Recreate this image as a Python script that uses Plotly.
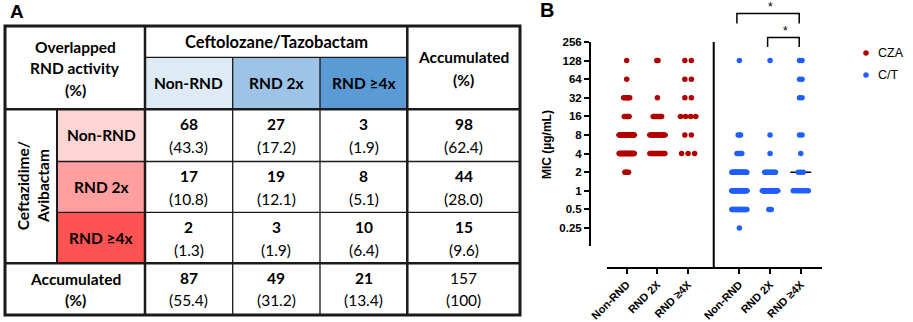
import numpy as np
import plotly.graph_objects as go

W, H = 913, 322

# ---------------- Panel A data ----------------
ct_levels = ["Non-RND", "RND 2x", "RND ≥4x"]      # Ceftolozane/Tazobactam columns
cza_levels = ["Non-RND", "RND 2x", "RND ≥4x"]     # Ceftazidime/Avibactam rows
counts = [[68, 27, 3], [17, 19, 8], [2, 3, 10]]
percents = [["43.3", "17.2", "1.9"], ["10.8", "12.1", "5.1"], ["1.3", "1.9", "6.4"]]
row_totals = [98, 44, 15]
row_pcts = ["62.4", "28.0", "9.6"]
col_totals = [87, 49, 21]
col_pcts = ["55.4", "31.2", "13.4"]
grand_total = "157"
grand_pct = "100"

# ---------------- Panel B data ----------------
mic_levels = [0.25, 0.5, 1, 2, 4, 8, 16, 32, 64, 128]
group_labels = ["Non-RND", "RND 2X", "RND ≥4X"]
cza_counts = [
    [0, 0, 0, 4, 41, 40, 5, 6, 1, 1],
    [0, 0, 0, 0, 16, 17, 8, 1, 0, 2],
    [0, 0, 0, 0, 3, 2, 4, 2, 2, 2],
]
ct_counts = [
    [1, 23, 28, 26, 5, 3, 0, 0, 0, 1],
    [0, 3, 33, 10, 1, 1, 0, 0, 0, 1],
    [0, 0, 9, 3, 1, 2, 0, 2, 2, 2],
]
y_tick_vals = [0.25, 0.5, 1, 2, 4, 8, 16, 32, 64, 128, 256]
y_tick_text = ["0.25", "0.5", "1", "2", "4", "8", "16", "32", "64", "128", "256"]
series_names = ["CZA", "C/T"]

# ---------------- styles ----------------
RED = "#B00000"
BLUE = "#1F5FFF"
TFONT = "Lato"
AFONT = "Liberation Sans, Arial"
FS = 15.5
INK = "#1a1a1a"


def px(x):
    return x / W


def py(y):
    return 1 - y / H


fig = go.Figure()
shapes = []
ann = []

# ---------------- Panel A: table ----------------
xs_ = [5, 57, 145, 232.7, 320, 407.3, 520]
ys_ = [26, 57.3, 109.3, 161.5, 212.3, 263.3, 315]
blue_fill = ["#DEEBF7", "#9DC3E6", "#5B9BD5"]
red_fill = ["#FDD5D5", "#FF9F9F", "#FF5252"]

for j in range(3):
    shapes.append(dict(type="rect", xref="paper", yref="paper", layer="below",
                       x0=px(xs_[2 + j]), x1=px(xs_[3 + j]), y0=py(ys_[1]), y1=py(ys_[2]),
                       fillcolor=blue_fill[j], line=dict(width=0)))
    shapes.append(dict(type="rect", xref="paper", yref="paper", layer="below",
                       x0=px(xs_[1]), x1=px(xs_[2]), y0=py(ys_[2 + j]), y1=py(ys_[3 + j]),
                       fillcolor=red_fill[j], line=dict(width=0)))


def hline(y, x0, x1, w):
    shapes.append(dict(type="line", xref="paper", yref="paper", x0=px(x0), x1=px(x1),
                       y0=py(y), y1=py(y), line=dict(color=INK, width=w)))


def vline(x, y0, y1, w):
    shapes.append(dict(type="line", xref="paper", yref="paper", x0=px(x), x1=px(x),
                       y0=py(y0), y1=py(y1), line=dict(color=INK, width=w)))


# thin
hline(ys_[1], xs_[2], xs_[5], 1.3)
hline(ys_[3], xs_[1], xs_[6], 1.3)
hline(ys_[4], xs_[1], xs_[6], 1.3)
vline(xs_[3], ys_[1], ys_[6], 1.3)
vline(xs_[4], ys_[1], ys_[6], 1.3)
vline(xs_[1], ys_[2], ys_[5], 2)
# thick
hline(ys_[2], xs_[0], xs_[6], 2.5)
hline(ys_[5], xs_[0], xs_[6], 2.5)
vline(xs_[2], ys_[0], ys_[6], 2.5)
vline(xs_[5], ys_[0], ys_[6], 2.5)
# outer
shapes.append(dict(type="rect", xref="paper", yref="paper", x0=px(xs_[0]), x1=px(xs_[6]),
                   y0=py(ys_[0]), y1=py(ys_[6]), line=dict(color=INK, width=3)))


def text(x, y, s, size=FS, bold=False, family=TFONT, color="black", angle=0, xanchor="center"):
    ann.append(dict(x=px(x), y=py(y), xref="paper", yref="paper", text=s, showarrow=False,
                    xanchor=xanchor, yanchor="middle", textangle=angle,
                    font=dict(family=family, size=size, color=color,
                              weight="bold" if bold else "normal")))


def cx(i):
    return (xs_[i] + xs_[i + 1]) / 2


def cy(i):
    return (ys_[i] + ys_[i + 1]) / 2


left_c = (xs_[0] + xs_[2]) / 2
# header
text(left_c, 46.5, "Overlapped", bold=True)
text(left_c, 68, "RND activity", bold=True)
text(left_c, 89.5, "(%)", bold=True)
text((xs_[2] + xs_[5]) / 2, cy(0), "Ceftolozane/Tazobactam", size=16.5, bold=True)
text(cx(5), 57, "Accumulated", bold=True)
text(cx(5), 80, "(%)", bold=True)
for j in range(3):
    text(cx(2 + j), cy(1), ct_levels[j], bold=True)
    text(cx(1), cy(2 + j), cza_levels[j], bold=True)
text(cx(0) + 2, (ys_[2] + ys_[5]) / 2, "Ceftazidime/<br>Avibactam", bold=True, angle=-90)

for i in range(3):
    for j in range(3):
        text(cx(2 + j), cy(2 + i) - 11, str(counts[i][j]), bold=True)
        text(cx(2 + j), cy(2 + i) + 12, "(" + percents[i][j] + ")")
    text(cx(5), cy(2 + i) - 11, str(row_totals[i]), bold=True)
    text(cx(5), cy(2 + i) + 12, "(" + row_pcts[i] + ")")

text(left_c, cy(5) - 10.5, "Accumulated", bold=True)
text(left_c, cy(5) + 11, "(%)", bold=True)
for j in range(3):
    text(cx(2 + j), cy(5) - 11, str(col_totals[j]), bold=True)
    text(cx(2 + j), cy(5) + 11, "(" + col_pcts[j] + ")")
text(cx(5), cy(5) - 11, grand_total)
text(cx(5), cy(5) + 11, "(" + grand_pct + ")")

text(17, 12, "A", size=19, bold=True, family=AFONT)
text(547, 10, "B", size=20, bold=True, family=AFONT)

# ---------------- Panel B: dot plot ----------------
PXU = 30.7
group_x = [0, 1, 2, 3.67, 4.67, 5.67]
spacing = [1.2, 1.2, 6.5, 1.2, 1.2, 2.5]
CAP = 15.0


def expand(cnts, xc, sp):
    xs, ys = [], []
    for lvl, n in zip(mic_levels, cnts):
        if n == 0:
            continue
        step = sp if n == 1 else min(sp, CAP / (n - 1))
        for k in range(n):
            xs.append(xc + (k - (n - 1) / 2) * step / PXU)
            ys.append(lvl)
    return xs, ys


all_groups = [(cza_counts, RED, series_names[0], 0), (ct_counts, BLUE, series_names[1], 3)]
# median lines first (below the dots)
for cset, col, name, off in all_groups:
    for g in range(3):
        _, ys = expand(cset[g], group_x[off + g], spacing[off + g])
        med = float(np.median(ys))
        xc = group_x[off + g]
        fig.add_trace(go.Scatter(x=[xc - 0.34, xc + 0.34], y=[med, med], mode="lines",
                                 line=dict(color="black", width=1.5), showlegend=False,
                                 hoverinfo="skip"))
for cset, col, name, off in all_groups:
    X, Y = [], []
    for g in range(3):
        xs, ys = expand(cset[g], group_x[off + g], spacing[off + g])
        X += xs
        Y += ys
    fig.add_trace(go.Scatter(x=X, y=Y, mode="markers", name=name, showlegend=False,
                             marker=dict(color=col, size=5.5, line=dict(width=0))))

x_left, x_right = 606.7, 822
y_top, y_bot = 42, 246
x_axis_y = 268
xr0 = group_x[0] - (626.7 - x_left) / PXU
xr1 = xr0 + (x_right - x_left) / PXU
ylog_top = np.log10(256)
ylog_bot = ylog_top - (y_bot - y_top) / (18.6 / np.log10(2))

fig.update_layout(
    xaxis=dict(domain=[px(x_left), px(x_right)], range=[xr0, xr1], anchor="free",
               position=py(x_axis_y), showline=True, linecolor="black", linewidth=2,
               ticks="outside", ticklen=5, tickwidth=1.5, tickcolor="black",
               tickvals=group_x, ticktext=group_labels * 2, tickangle=-45,
               tickfont=dict(family=AFONT, size=11, color="black", weight="bold"),
               showgrid=False, zeroline=False, automargin=False),
    yaxis=dict(domain=[py(y_bot), py(y_top)], type="log", range=[ylog_bot, ylog_top],
               anchor="free", position=px(590), showline=True, linecolor="black",
               linewidth=2, ticks="outside", ticklen=5, tickwidth=1.5, tickcolor="black",
               tickvals=y_tick_vals, ticktext=y_tick_text,
               tickfont=dict(family=AFONT, size=11.5, color="black", weight="bold"),
               showgrid=False, zeroline=False, automargin=False),
)

# separator between the two series
sep = (group_x[2] + group_x[3]) / 2
shapes.append(dict(type="line", xref="x", yref="paper", x0=sep, x1=sep,
                   y0=py(y_top), y1=py(x_axis_y), line=dict(color="black", width=2)))


# significance brackets
def bracket(g0, g1, ytop, ybot):
    shapes.append(dict(type="path", xref="x", yref="paper",
                       path=f"M {group_x[g0]-0.08},{py(ybot)} L {group_x[g0]-0.08},{py(ytop)} "
                            f"L {group_x[g1]-0.05},{py(ytop)} L {group_x[g1]-0.05},{py(ybot)}",
                       line=dict(color="black", width=1.5)))
    ann.append(dict(x=(group_x[g0] + group_x[g1]) / 2, y=py(ytop - 6), xref="x", yref="paper",
                    text="*", showarrow=False, xanchor="center", yanchor="middle",
                    font=dict(family=AFONT, size=12, color="black")))


bracket(3, 5, 13.5, 23.5)
bracket(4, 5, 37.5, 47)

# y-axis title
text(547, 145, "MIC (µg/mL)", size=12, bold=True, family=AFONT, angle=-90)

# legend
for k, (name, col) in enumerate(zip(series_names, [RED, BLUE])):
    yy = 53 + 22 * k
    shapes.append(dict(type="circle", xref="paper", yref="paper", xsizemode="pixel",
                       ysizemode="pixel", xanchor=px(866), yanchor=py(yy),
                       x0=-2.75, x1=2.75, y0=-2.75, y1=2.75, fillcolor=col,
                       line=dict(width=0)))
    text(876, yy, name, size=12.5, family=AFONT, xanchor="left")

fig.update_layout(width=W, height=H, margin=dict(l=0, r=0, t=0, b=0, pad=0),
                  paper_bgcolor="white", plot_bgcolor="white",
                  shapes=shapes, annotations=ann, showlegend=False)
fig.write_html("out.html", config={"displayModeBar": False},
               post_script="document.body.style.margin='0';document.body.style.overflow='hidden';")
